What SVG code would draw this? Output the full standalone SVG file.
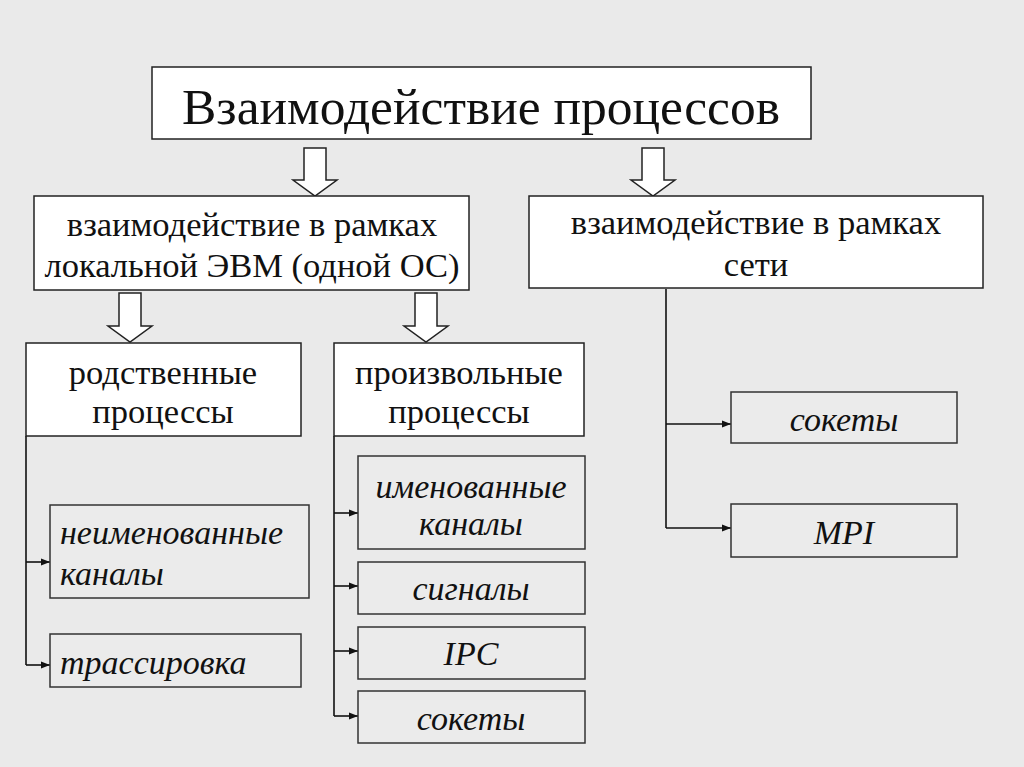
<svg xmlns="http://www.w3.org/2000/svg" width="1024" height="767" viewBox="0 0 1024 767">
<defs>
<marker id="ah" viewBox="0 0 10 10" refX="10" refY="5" markerWidth="9" markerHeight="9" markerUnits="userSpaceOnUse" orient="auto">
<path d="M0,1 L10,5 L0,9 Z" fill="#111"/>
</marker>
</defs>
<rect x="0" y="0" width="1024" height="767" fill="#eaeaea"/>

<g id="connectors" fill="#ffffff" stroke="#222" stroke-width="1.5">
<path d="M304,148 H326 V180 H337 L315,196 L293,180 H304 Z"/>
<path d="M642,148 H664 V180 H675 L653,196 L631,180 H642 Z"/>
<path d="M119,293 H141 V326 H152 L130,342 L108,326 H119 Z"/>
<path d="M415,293 H437 V326 H448 L426,342 L404,326 H415 Z"/>
<g fill="none" stroke="#111" stroke-width="1.6">
<path d="M26,436 V665"/>
<path d="M26,562 H50" marker-end="url(#ah)"/>
<path d="M26,665 H50" marker-end="url(#ah)"/>
<path d="M334,436 V716"/>
<path d="M334,513 H358" marker-end="url(#ah)"/>
<path d="M334,586 H358" marker-end="url(#ah)"/>
<path d="M334,651 H358" marker-end="url(#ah)"/>
<path d="M334,716 H358" marker-end="url(#ah)"/>
<path d="M666,289 V528"/>
<path d="M666,424 H731" marker-end="url(#ah)"/>
<path d="M666,528 H731" marker-end="url(#ah)"/>
</g>
</g>

<g id="title">
<rect x="152" y="67" width="659" height="72" fill="#ffffff" stroke="#222" stroke-width="1.5"/>
<text x="481" y="124" font-family="Liberation Serif" font-size="51.5" fill="#111" text-anchor="middle">Взаимодействие процессов</text>
</g>

<g id="local">
<rect x="34" y="196" width="435" height="94" fill="#ffffff" stroke="#222" stroke-width="1.5"/>
<text x="252" y="236" font-family="Liberation Serif" font-size="34.5" fill="#111" text-anchor="middle">взаимодействие в рамках</text>
<text x="252" y="277" font-family="Liberation Serif" font-size="34.5" fill="#111" text-anchor="middle">локальной ЭВМ (одной ОС)</text>
</g>

<g id="network">
<rect x="529" y="196" width="454" height="92" fill="#ffffff" stroke="#222" stroke-width="1.5"/>
<text x="756" y="234" font-family="Liberation Serif" font-size="34.5" fill="#111" text-anchor="middle">взаимодействие в рамках</text>
<text x="756" y="276" font-family="Liberation Serif" font-size="34.5" fill="#111" text-anchor="middle">сети</text>
</g>

<g id="related">
<rect x="26" y="343" width="275" height="93" fill="#ffffff" stroke="#222" stroke-width="1.5"/>
<text x="163" y="384" font-family="Liberation Serif" font-size="34.5" fill="#111" text-anchor="middle">родственные</text>
<text x="163" y="423" font-family="Liberation Serif" font-size="34.5" fill="#111" text-anchor="middle">процессы</text>
</g>

<g id="arbitrary">
<rect x="334" y="343" width="250" height="93" fill="#ffffff" stroke="#222" stroke-width="1.5"/>
<text x="459" y="384" font-family="Liberation Serif" font-size="34.5" fill="#111" text-anchor="middle">произвольные</text>
<text x="459" y="423" font-family="Liberation Serif" font-size="34.5" fill="#111" text-anchor="middle">процессы</text>
</g>

<g id="unnamed">
<rect x="50" y="505" width="259" height="93" fill="#ebebeb" stroke="#333" stroke-width="1.5"/>
<text x="60" y="544" font-family="Liberation Serif" font-size="34" font-style="italic" fill="#111">неименованные</text>
<text x="60" y="585" font-family="Liberation Serif" font-size="34" font-style="italic" fill="#111">каналы</text>
</g>

<g id="trace">
<rect x="50" y="634" width="251" height="53" fill="#ebebeb" stroke="#333" stroke-width="1.5"/>
<text x="60" y="674" font-family="Liberation Serif" font-size="34" font-style="italic" fill="#111">трассировка</text>
</g>

<g id="named">
<rect x="358" y="456" width="227" height="93" fill="#ebebeb" stroke="#333" stroke-width="1.5"/>
<text x="471" y="498" font-family="Liberation Serif" font-size="34" font-style="italic" fill="#111" text-anchor="middle">именованные</text>
<text x="471" y="535" font-family="Liberation Serif" font-size="34" font-style="italic" fill="#111" text-anchor="middle">каналы</text>
</g>

<g id="signals">
<rect x="358" y="562" width="227" height="52" fill="#ebebeb" stroke="#333" stroke-width="1.5"/>
<text x="471" y="600" font-family="Liberation Serif" font-size="34" font-style="italic" fill="#111" text-anchor="middle">сигналы</text>
</g>

<g id="ipc">
<rect x="358" y="627" width="227" height="52" fill="#ebebeb" stroke="#333" stroke-width="1.5"/>
<text x="471" y="665" font-family="Liberation Serif" font-size="34" font-style="italic" fill="#111" text-anchor="middle">IPC</text>
</g>

<g id="sockets1">
<rect x="358" y="691" width="227" height="52" fill="#ebebeb" stroke="#333" stroke-width="1.5"/>
<text x="471" y="730" font-family="Liberation Serif" font-size="34" font-style="italic" fill="#111" text-anchor="middle">сокеты</text>
</g>

<g id="sockets2">
<rect x="731" y="392" width="226" height="51" fill="#ebebeb" stroke="#333" stroke-width="1.5"/>
<text x="844" y="431" font-family="Liberation Serif" font-size="34" font-style="italic" fill="#111" text-anchor="middle">сокеты</text>
</g>

<g id="mpi">
<rect x="731" y="504" width="226" height="53" fill="#ebebeb" stroke="#333" stroke-width="1.5"/>
<text x="844" y="544" font-family="Liberation Serif" font-size="34" font-style="italic" fill="#111" text-anchor="middle">MPI</text>
</g>
</svg>
